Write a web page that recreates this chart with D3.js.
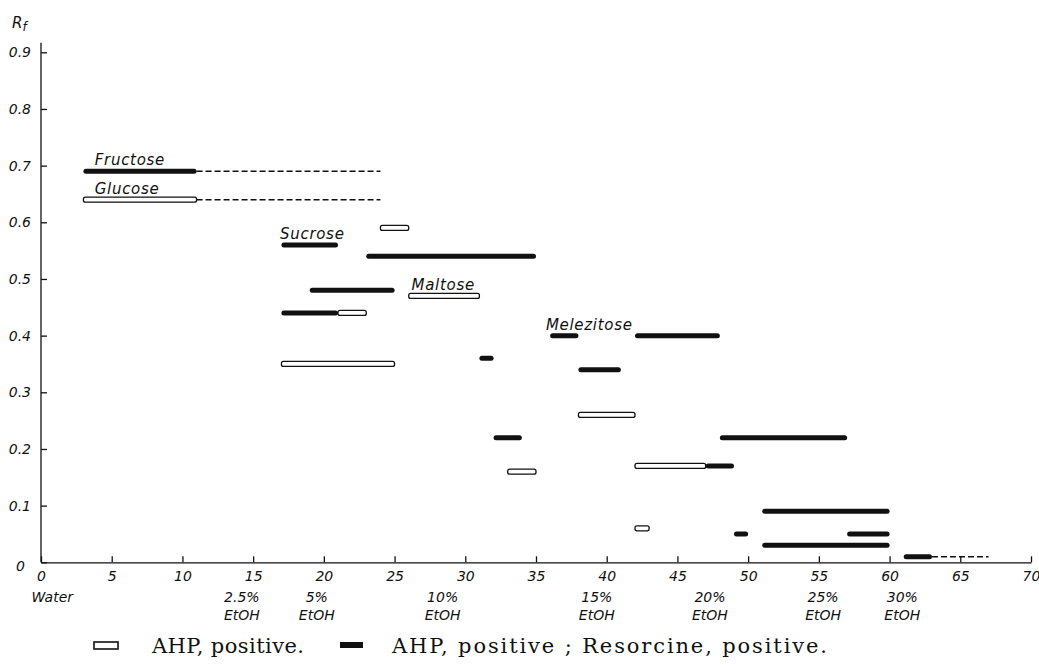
<!DOCTYPE html>
<html>
<head>
<meta charset="utf-8">
<script src="https://cdn.jsdelivr.net/npm/d3@7"></script>
<style>
  body { margin: 0; background: #fff; }
  svg { display: block; }
  .axis text { font-family: "DejaVu Sans", sans-serif; font-style: italic; font-size: 14px; fill: #111; }
  .axis path, .axis line { stroke: #111; stroke-width: 1.3; }
  .lbl { font-family: "DejaVu Sans", sans-serif; font-style: italic; font-size: 15px; fill: #111; }
  .legend text { font-family: "DejaVu Serif", serif; font-size: 21px; fill: #111; }
</style>
</head>
<body>
<div id="container"></div>
<script>
/* DATA : Rf of each spot against fraction number */
// AHP positive only (hollow bars)  [from, to, Rf]
const hollowBars = [
  [3, 11, 0.64], [24, 26, 0.59], [21, 23, 0.44], [17, 25, 0.35],
  [26, 31, 0.47], [33, 35, 0.16], [38, 42, 0.26], [42, 47, 0.17],
  [42, 43, 0.06]
]
// AHP positive ; Resorcine positive (solid bars)
const solidBars = [
  [3, 11, 0.69], [17, 21, 0.56], [23, 35, 0.54], [19, 25, 0.48],
  [17, 21, 0.44], [31, 32, 0.36], [32, 34, 0.22], [36, 38, 0.40],
  [42, 48, 0.40], [38, 41, 0.34], [48, 57, 0.22], [47, 49, 0.17],
  [49, 50, 0.05], [51, 60, 0.09], [57, 60, 0.05], [51, 60, 0.03],
  [61, 63, 0.01]
]
// trailing (dashed)
const dashedTails = [[11, 24, 0.69], [11, 24, 0.64], [63, 67, 0.01]]

const sugarNames = ["Fructose", "Glucose", "Sucrose", "Maltose", "Melezitose"]
const sugarX = [3.8, 3.8, 16.9, 26.2, 35.7]
const sugarRf = [0.69, 0.64, 0.56, 0.47, 0.40]

const xTicks = [0, 5, 10, 15, 20, 25, 30, 35, 40, 45, 50, 55, 60, 65, 70]
const yTicks = [0, 0.1, 0.2, 0.3, 0.4, 0.5, 0.6, 0.7, 0.8, 0.9]

const solventNames = ["Water", "2.5%", "5%", "10%", "15%", "20%", "25%", "30%"]
const solventX = [0.8, 14.2, 19.5, 28.4, 39.3, 47.3, 55.3, 60.9]

const legendLabels = ["AHP, positive.", "AHP, positive ; Resorcine, positive."]

/* CONSTANTS */
const width = 1039, height = 665

const svg = d3.select("#container")
  .append("svg")
  .attr("width", width)
  .attr("height", height)

// SCALES
const xScale = d3.scaleLinear().domain([0, 70]).range([41, 1031])
const yScale = d3.scaleLinear().domain([0, 0.9]).range([562.3, 52.3])

// AXES
const xAxis = d3.axisBottom(xScale)
  .tickValues(xTicks)
  .tickSizeInner(-6)
  .tickSizeOuter(0)
  .tickPadding(9)
  .tickFormat(d3.format("d"))

svg.append("g")
  .attr("class", "axis")
  .attr("transform", `translate(0, ${yScale(0)})`)
  .call(xAxis)

const yAxis = d3.axisLeft(yScale)
  .tickValues(yTicks)
  .tickSizeInner(-6)
  .tickSizeOuter(0)
  .tickPadding(10)
  .tickFormat(d => d === 0 ? "0" : d3.format(".1f")(d))

const yAxisGroup = svg.append("g")
  .attr("class", "axis")
  .attr("transform", `translate(${xScale(0)}, 0)`)
  .call(yAxis)

yAxisGroup.select(".domain").remove()
yAxisGroup.append("line")
  .attr("y1", yScale(0))
  .attr("y2", yScale(0.917))
  .attr("stroke", "#111")
  .attr("stroke-width", 1.5)
// the zero label sits a bit lower and further left
yAxisGroup.selectAll(".tick")
  .filter(d => d === 0)
  .select("text")
  .attr("x", -16)
  .attr("dy", "0.55em")

// Rf title
const rf = svg.append("text")
  .attr("class", "lbl")
  .attr("x", 12)
  .attr("y", 28)
rf.append("tspan").text("R")
rf.append("tspan").attr("dy", 3).attr("font-size", 12).text("f")

// solvent labels under the x axis
const solvent = svg.append("g").attr("class", "axis")
solvent.selectAll(".s1")
  .data(solventNames)
  .join("text")
  .attr("class", "s1")
  .attr("x", (d, i) => xScale(solventX[i]))
  .attr("y", 601.5)
  .attr("text-anchor", "middle")
  .text(d => d)
solvent.selectAll(".s2")
  .data(solventNames.slice(1))
  .join("text")
  .attr("class", "s2")
  .attr("x", (d, i) => xScale(solventX[i + 1]))
  .attr("y", 620)
  .attr("text-anchor", "middle")
  .text("EtOH")

// DASHED TAILS
svg.selectAll(".tail")
  .data(dashedTails)
  .join("line")
  .attr("class", "tail")
  .attr("x1", d => xScale(d[0]))
  .attr("x2", d => xScale(d[1]))
  .attr("y1", d => yScale(d[2]))
  .attr("y2", d => yScale(d[2]))
  .attr("stroke", "#111")
  .attr("stroke-width", 1.5)
  .attr("stroke-dasharray", "6,3")

// HOLLOW BARS
const barH = 5
svg.selectAll(".hollow")
  .data(hollowBars)
  .join("rect")
  .attr("class", "hollow")
  .attr("x", d => xScale(d[0]))
  .attr("width", d => xScale(d[1]) - xScale(d[0]))
  .attr("y", d => yScale(d[2]) - barH / 2)
  .attr("height", barH)
  .attr("rx", 2)
  .attr("fill", "#fff")
  .attr("stroke", "#111")
  .attr("stroke-width", 1.3)

// SOLID BARS
svg.selectAll(".solid")
  .data(solidBars)
  .join("rect")
  .attr("class", "solid")
  .attr("x", d => xScale(d[0]))
  .attr("width", d => xScale(d[1]) - xScale(d[0]))
  .attr("y", d => yScale(d[2]) - barH / 2)
  .attr("height", barH)
  .attr("rx", 2.5)
  .attr("fill", "#111")

// SUGAR NAMES
svg.selectAll(".name")
  .data(sugarNames)
  .join("text")
  .attr("class", "lbl name")
  .attr("x", (d, i) => xScale(sugarX[i]))
  .attr("y", (d, i) => yScale(sugarRf[i]) - 6)
  .attr("letter-spacing", 0.7)
  .text(d => d)

// LEGEND
const legend = svg.append("g").attr("class", "legend")
const legendX = [94, 340]
const legendTextX = [152, 392]
const legendW = [152, 435]

legend.append("rect")
  .attr("x", legendX[0]).attr("y", 642)
  .attr("width", 24).attr("height", 7)
  .attr("fill", "#fff").attr("stroke", "#111").attr("stroke-width", 1.6)
legend.append("rect")
  .attr("x", legendX[1]).attr("y", 642)
  .attr("width", 23).attr("height", 6)
  .attr("fill", "#111")

legend.selectAll("text")
  .data(legendLabels)
  .join("text")
  .attr("x", (d, i) => legendTextX[i])
  .attr("y", 653)
  .attr("textLength", (d, i) => legendW[i])
  .attr("lengthAdjust", "spacing")
  .text(d => d)
</script>
</body>
</html>
